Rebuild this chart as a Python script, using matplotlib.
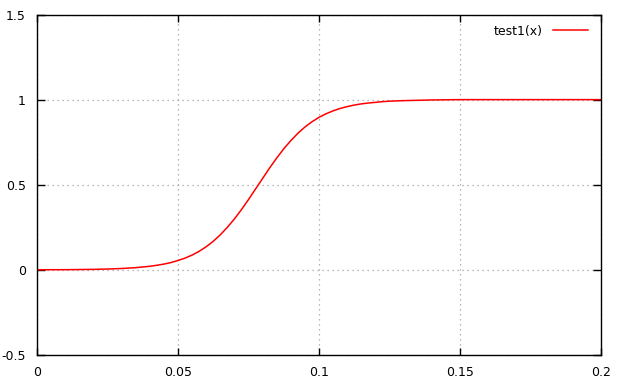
import numpy as np
import matplotlib.pyplot as plt

# valeurs
x = [0.000, 0.005, 0.010, 0.015, 0.020, 0.025, 0.030, 0.035, 0.040, 0.0425,
     0.045, 0.0475, 0.050, 0.0525, 0.055, 0.0575, 0.060, 0.0625, 0.065, 0.0675,
     0.070, 0.0725, 0.075, 0.0775, 0.080, 0.0825, 0.085, 0.0875, 0.090, 0.0925,
     0.095, 0.0975, 0.100, 0.1025, 0.105, 0.1075, 0.110, 0.1125, 0.115, 0.1175,
     0.120, 0.1225, 0.125, 0.130, 0.135, 0.140, 0.145, 0.150, 0.200]
y = [0.000, 0.001, 0.001, 0.002, 0.003, 0.005, 0.008, 0.013, 0.021, 0.027,
     0.034, 0.043, 0.055, 0.069, 0.087, 0.109, 0.136, 0.168, 0.206, 0.250,
     0.299, 0.354, 0.413, 0.475, 0.537, 0.599, 0.657, 0.711, 0.759, 0.802,
     0.839, 0.870, 0.896, 0.917, 0.934, 0.948, 0.959, 0.968, 0.975, 0.980,
     0.984, 0.988, 0.991, 0.994, 0.996, 0.998, 0.999, 1.000, 1.000]
xticks = [0, 0.05, 0.1, 0.15, 0.2]
xtick_labels = ['0', '0.05', '0.1', '0.15', '0.2']
yticks = [-0.5, 0, 0.5, 1, 1.5]
ytick_labels = ['-0.5', '0', '0.5', '1', '1.5']

plt.rcParams['font.family'] = ['DejaVu Sans']
fig = plt.figure(figsize=(6.3, 3.87), dpi=100)
ax = fig.add_axes([37 / 630, 1 - 355 / 387, (601 - 37) / 630, (355 - 14.5) / 387])

ax.plot(x, y, color='#ff0000', lw=1.1, label='test1(x)')
ax.set_xlim(0, 0.2)
ax.set_ylim(-0.5, 1.5)
ax.set_xticks(xticks)
ax.set_xticklabels(xtick_labels)
ax.set_yticks(yticks)
ax.set_yticklabels(ytick_labels)
ax.grid(True, color='#a0a0a0', linestyle=(0, (1, 3)), lw=0.9)
ax.tick_params(direction='in', width=1, top=True, right=True,
               labelsize=9, pad=8)
ax.tick_params(axis='x', length=5)
ax.tick_params(axis='y', length=6)
for s in ax.spines.values():
    s.set_linewidth(1)
    s.set_color('black')

leg = ax.legend(loc='upper right', frameon=False, markerfirst=False,
                fontsize=9, handlelength=2.8, borderaxespad=0.4,
                bbox_to_anchor=(0.995, 1.0))

fig.savefig('out.png', dpi=100)
